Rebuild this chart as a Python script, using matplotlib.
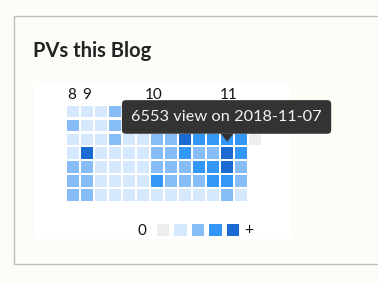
import numpy as np
import matplotlib
matplotlib.use("Agg")
import matplotlib.pyplot as plt
from matplotlib.patches import Rectangle, FancyBboxPatch, Polygon

W, H = 378, 283
PAGE_BG = "#fdfdf8"
BORDER = "#bdbdbd"
LEVEL_COLORS = ["#ededed", "#d6e8fd", "#87bdf7", "#3397f7", "#1b6ad1"]
FONT = ["Lato", "DejaVu Sans"]

# colour level per day; rows = Sun..Sat, columns = weeks (NaN = future)
nan = np.nan
levels = np.array([
    [1, 1, 1, 2, 1, 1, 2, 2, 3, 3, 3, 3, 2, 1],
    [2, 1, 1, 2, 1, 1, 2, 3, 3, 3, 4, 3, 3, 1],
    [1, 1, 1, 2, 1, 1, 2, 2, 4, 3, 3, 3, 3, 0],
    [1, 4, 1, 1, 1, 1, 2, 2, 3, 2, 2, 4, 3, nan],
    [2, 2, 1, 1, 1, 1, 2, 2, 2, 3, 3, 4, 2, nan],
    [2, 2, 1, 1, 1, 1, 3, 2, 2, 2, 3, 3, 2, nan],
    [2, 2, 1, 1, 1, 1, 1, 1, 1, 1, 1, 2, 1, nan],
])
month_labels = ["8", "9", "10", "11"]
month_weeks = [-0.07, 0.97, 5.74, 11.08]
hover_week, hover_day = 11, 3
hover_views = 6553
hover_date = "2018-11-07"
legend_levels = [0, 1, 2, 3, 4]

fig = plt.figure(figsize=(W / 100, H / 100), dpi=100, facecolor=PAGE_BG)

# page / panel in pixel coordinates
bg = fig.add_axes([0, 0, 1, 1])
bg.set_xlim(0, W)
bg.set_ylim(H, 0)
bg.axis("off")
bg.add_patch(Rectangle((13.5, 16), 400, 248, fc=PAGE_BG, ec=BORDER, lw=1.0))
bg.add_patch(Rectangle((34, 82), 256, 157, fc="white", ec="none"))
bg.text(33, 57, "PVs this Blog", fontsize=14.5, fontweight="bold",
        color="#222222", family=FONT, va="baseline", ha="left")

# heatmap grid: one unit = 14 px wide, 13.9 px tall
n_rows, n_cols = levels.shape
ax = fig.add_axes([67.3 / W, (H - 105.7 - 13.9 * n_rows) / H,
                   14 * n_cols / W, 13.9 * n_rows / H])
ax.set_xlim(0, n_cols)
ax.set_ylim(n_rows, 0)
ax.axis("off")
cw, ch = 0.835, 0.83
for r in range(n_rows):
    for c in range(n_cols):
        v = levels[r, c]
        if np.isnan(v):
            continue
        ax.add_patch(Rectangle((c, r), cw, ch, fc=LEVEL_COLORS[int(v)], ec="none"))

for lab, wk in zip(month_labels, month_weeks):
    ax.text(wk + cw / 2, -0.48, lab, ha="center", va="baseline", fontsize=11,
            color="#111111", family=FONT, clip_on=False)

# tooltip anchored on hovered cell
tx = hover_week + cw / 2
box = FancyBboxPatch((3.9, -0.4), 14.95, 2.42,
                     boxstyle="round,pad=0,rounding_size=0.28",
                     fc="#333333", ec="none", zorder=5, clip_on=False)
ax.add_patch(box)
ax.add_patch(Polygon([(tx - 0.45, 2.0), (tx + 0.45, 2.0), (tx, 2.6)],
                     closed=True, fc="#333333", ec="none", zorder=5, clip_on=False))
ax.text(3.9 + 14.95 / 2, 0.84, f"{hover_views} view on {hover_date}",
        ha="center", va="center", fontsize=11.8, color="#f2f2f2",
        family=FONT, zorder=6, clip_on=False)

# legend
lg = fig.add_axes([156.7 / W, (H - 236.7) / H, 17.5 * len(legend_levels) / W, 13.4 / H])
lg.set_xlim(0, len(legend_levels))
lg.set_ylim(1, 0)
lg.axis("off")
for i, lv in enumerate(legend_levels):
    lg.add_patch(Rectangle((i, 0.03), 0.72, 0.95, fc=LEVEL_COLORS[lv], ec="none"))
lg.text(-0.83, 0.55, "0", ha="center", va="center", fontsize=11,
        family=FONT, color="#111111", clip_on=False)
lg.text(len(legend_levels) + 0.27, 0.52, "+", ha="center", va="center",
        fontsize=11.5, family=FONT, color="#111111", clip_on=False)

fig.savefig("out.png", dpi=100, facecolor=PAGE_BG)
